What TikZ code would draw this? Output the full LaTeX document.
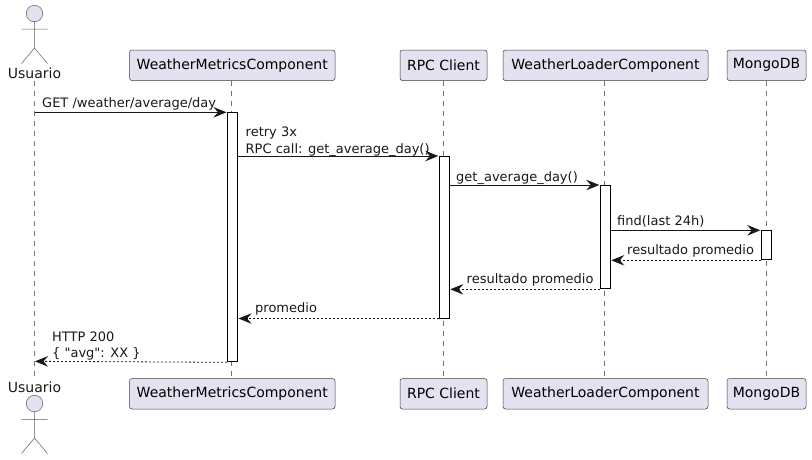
\documentclass[tikz,border=0pt]{standalone}
\usepackage{fontspec}
\setmainfont{DejaVu Sans}
\newfontfamily\rawfont{DejaVu Sans}
\usetikzlibrary{arrows.meta}
\definecolor{partfill}{HTML}{E2E2F0}
\definecolor{partline}{HTML}{181818}
\tikzset{
  part/.style={draw=partline!85, line width=0.5pt, fill=partfill, rounded corners=2.5pt, minimum height=30.5pt, inner sep=0pt, font=\fontsize{14}{16}\selectfont},
  bar/.style={draw=black, line width=1pt, fill=white, minimum width=10pt, inner sep=0pt, anchor=north},
  life/.style={draw=partline!60, line width=0.5pt, dash pattern=on 5pt off 5pt},
  head/.style={draw=partline!70, line width=0.5pt, fill=partfill},
  stick/.style={draw=partline!70, line width=0.5pt},
  msg/.style={draw=partline, line width=1pt, shorten >=0.5pt, -{Stealth[length=13pt, width=10.5pt, inset=4.5pt]}},
  back/.style={msg, line width=0.8pt, dash pattern=on 2pt off 2pt},
  lbl/.style={anchor=base west, inner sep=0pt, font=\fontsize{13}{16}\selectfont, text=partline, align=left},
  actorlbl/.style={inner sep=0pt, font=\fontsize{14}{16}\selectfont, text=partline}
}
\begin{document}
\begin{tikzpicture}[x=1pt, y=-1pt]
    \useasboundingbox (0, 0) rectangle (812, 459);
    % participants, top row
    \node[actorlbl] (usertop) at (34.5, 73) {Usuario};
    \node[part, minimum width=205.5pt] (metricstop) at (232.25, 65.25) {WeatherMetricsComponent};
    \node[part, minimum width=87pt] (rpctop) at (443.5, 65.25) {RPC Client};
    \node[part, minimum width=205pt] (loadertop) at (605.5, 65.25) {WeatherLoaderComponent};
    \node[part, minimum width=79pt] (mongotop) at (766.5, 65.25) {MongoDB};
    % participants, bottom row
    \node[actorlbl] (userbot) at (34.5, 387) {Usuario};
    \node[part, minimum width=205.5pt] (metricsbot) at (232.25, 393.75) {WeatherMetricsComponent};
    \node[part, minimum width=87pt] (rpcbot) at (443.5, 393.75) {RPC Client};
    \node[part, minimum width=205pt] (loaderbot) at (605.5, 393.75) {WeatherLoaderComponent};
    \node[part, minimum width=79pt] (mongobot) at (766.5, 393.75) {MongoDB};
    % stick figures
    \draw[head] (34.5, 13.5) circle (8.25);
    \draw[stick] (34.5, 21.75) -- (34.5, 48) (21.5, 29) -- (47.5, 29) (21.5, 63.5) -- (34.5, 48) -- (47.5, 63.5);
    \draw[head] (34.5, 403.5) circle (8.25);
    \draw[stick] (34.5, 411.75) -- (34.5, 438) (21.5, 419.5) -- (47.5, 419.5) (21.5, 453.5) -- (34.5, 438) -- (47.5, 453.5);
    % lifelines
    \coordinate (userhi) at (34.5, 81);
    \coordinate (userlo) at (34.5, 378);
    \coordinate (metricshi) at (231.5, 80.5);
    \coordinate (metricslo) at (231.5, 378.5);
    \coordinate (rpchi) at (443.5, 80.5);
    \coordinate (rpclo) at (443.5, 378.5);
    \coordinate (loaderhi) at (604.5, 80.5);
    \coordinate (loaderlo) at (604.5, 378.5);
    \coordinate (mongohi) at (766.5, 80.5);
    \coordinate (mongolo) at (766.5, 378.5);
    \draw[life] (userhi) -- (userlo);
    \draw[life] (metricshi) -- (metricslo);
    \draw[life] (rpchi) -- (rpclo);
    \draw[life] (loaderhi) -- (loaderlo);
    \draw[life] (mongohi) -- (mongolo);
    % activation bars
    \node[bar, minimum height=249pt] (metricsbar) at (232.5, 112.3) {};
    \node[bar, minimum height=161.5pt] (rpcbar) at (444.3, 156) {};
    \node[bar, minimum height=103.3pt] (loaderbar) at (605.3, 185) {};
    \node[bar, minimum height=29pt] (mongobar) at (766.3, 230.3) {};
    % free ends of the messages
    \coordinate (userin) at (34.5, 112.3);
    \coordinate (userout) at (34.5, 361.3);
    % calls
    \draw[msg] (userin) -- (metricsbar.north west);
    \draw[msg] (metricsbar.east |- rpcbar.north) -- (rpcbar.north west);
    \draw[msg] (rpcbar.east |- loaderbar.north) -- (loaderbar.north west);
    \draw[msg] (loaderbar.east |- mongobar.north) -- (mongobar.north west);
    % replies
    \draw[back] (mongobar.south west) -- (loaderbar.east |- mongobar.south);
    \draw[back] (loaderbar.south west) -- (rpcbar.east |- loaderbar.south);
    \draw[back] (rpcbar.south west) -- (metricsbar.east |- rpcbar.south);
    \draw[back] (metricsbar.south west) -- (userout);
    % labels
    \node[lbl] (getlbl) at (42, 107) {GET /weather/average/day};
    \node[lbl] (retrylbl) at (245.5, 136) {retry 3x};
    \node[lbl] (calllbl) at (245.5, 153) {RPC call: get\_average\_day()};
    \node[lbl] (avglbl) at (456, 181.5) {get\_average\_day()};
    \node[lbl] (findlbl) at (617, 225) {find(last 24h)};
    \node[lbl] (resalbl) at (627, 254) {resultado promedio};
    \node[lbl] (resblbl) at (466.5, 283) {resultado promedio};
    \node[lbl] (promlbl) at (255, 312) {promedio};
    \node[lbl] (httplbl) at (52, 341.5) {HTTP 200};
    \node[lbl] (jsonlbl) at (52, 357) {\rawfont \{ "avg": XX \}};
  \end{tikzpicture}
\end{document}
